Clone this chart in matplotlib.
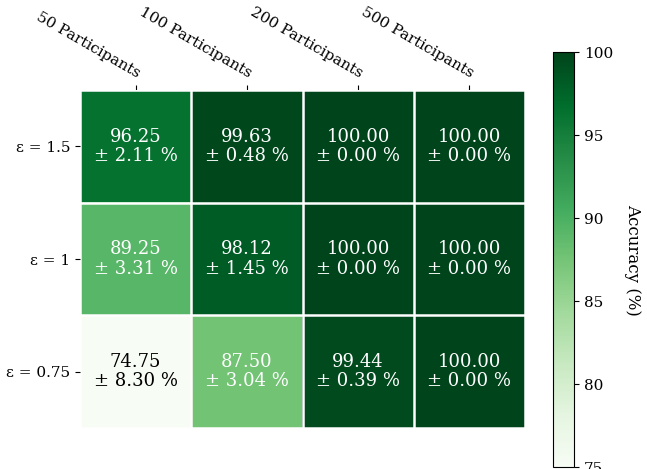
import numpy as np
import matplotlib.pyplot as plt

plt.rcParams['font.family'] = ['DejaVu Serif']

# colonnes / lignes du tableau
participants = ["50 Participants", "100 Participants", "200 Participants", "500 Participants"]
epsilons = ["ε = 1.5", "ε = 1", "ε = 0.75"]

# précision moyenne et écart type
acc_mean = np.array([[96.25, 99.63, 100.00, 100.00],
                     [89.25, 98.12, 100.00, 100.00],
                     [74.75, 87.50, 99.44, 100.00]])
acc_std = np.array([[2.11, 0.48, 0.00, 0.00],
                    [3.31, 1.45, 0.00, 0.00],
                    [8.30, 3.04, 0.39, 0.00]])

fig = plt.figure(figsize=(6.47, 4.69), dpi=100)
ax = fig.add_axes([80/647, 41/469, 445/647, 338/469])
cax = fig.add_axes([553/647, 2/469, 21/647, 415/469])

im = ax.imshow(acc_mean, cmap="Greens", vmin=75, vmax=100, aspect="auto")
cbar = fig.colorbar(im, cax=cax)
cbar.set_ticks([75, 80, 85, 90, 95, 100])
cbar.ax.set_ylabel("Accuracy (%)", rotation=-90, va="bottom", fontsize=12, labelpad=8)
cbar.ax.tick_params(labelsize=11)

ax.set_xticks(np.arange(len(participants)), labels=participants, fontsize=11)
ax.set_yticks(np.arange(len(epsilons)), labels=epsilons, fontsize=11)
ax.tick_params(top=True, bottom=False, labeltop=True, labelbottom=False)
plt.setp(ax.get_xticklabels(), rotation=-30, ha="right", rotation_mode="anchor")

for s in ax.spines.values():
    s.set_visible(False)
ax.set_xticks(np.arange(acc_mean.shape[1] + 1) - .5, minor=True)
ax.set_yticks(np.arange(acc_mean.shape[0] + 1) - .5, minor=True)
ax.grid(which="minor", color="w", linestyle='-', linewidth=1.8)
ax.tick_params(which="minor", bottom=False, left=False, top=False)

for i in range(acc_mean.shape[0]):
    for j in range(acc_mean.shape[1]):
        c = "black" if acc_mean[i, j] < 87.5 else "white"
        ax.text(j, i, f"{acc_mean[i, j]:.2f}\n± {acc_std[i, j]:.2f} %",
                ha="center", va="center", color=c, fontsize=13, linespacing=1.1)

fig.savefig("out.png", dpi=100)
